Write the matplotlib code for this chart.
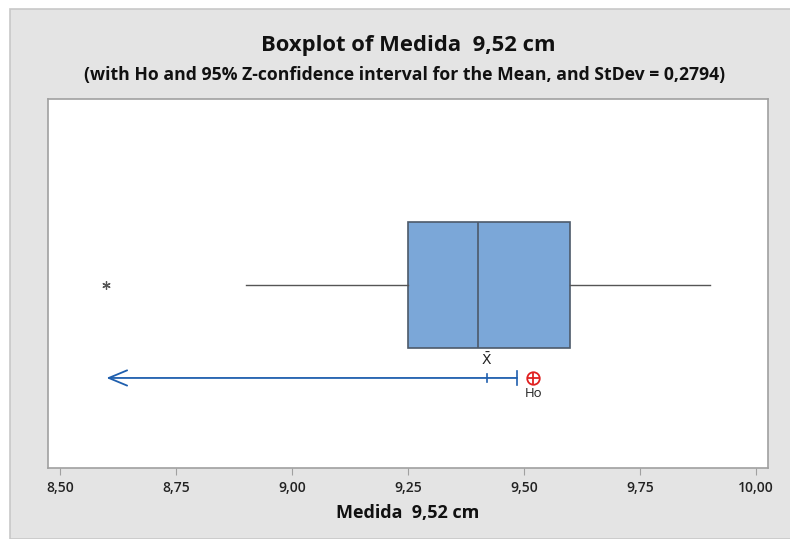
import numpy as np
import matplotlib.pyplot as plt
from matplotlib.patches import Rectangle

# Summary values
q1 = 9.25
median = 9.40
q3 = 9.60
whisker_low = 8.90
whisker_high = 9.90
outliers = [8.60]
mean = 9.42
ci_upper = 9.485
ho = 9.52
xticks = [8.50, 8.75, 9.00, 9.25, 9.50, 9.75, 10.00]
xtick_labels = ['8,50', '8,75', '9,00', '9,25', '9,50', '9,75', '10,00']

plt.rcParams['font.family'] = ['Open Sans', 'DejaVu Sans']

fig = plt.figure(figsize=(7.9, 5.39), dpi=100)
fig.patch.set_facecolor('white')
# grey Minitab style panel
fig.patches.append(Rectangle((10 / 790, 0), 1, 1 - 9 / 539, transform=fig.transFigure,
                             facecolor='#e4e4e4', edgecolor='#c8c8c8', lw=1.2, zorder=-1))

ax = fig.add_axes([48 / 790, 71 / 539, 720 / 790, 369 / 539])
ax.set_facecolor('white')

stats = [{'q1': q1, 'med': median, 'q3': q3, 'whislo': whisker_low,
          'whishi': whisker_high, 'fliers': outliers}]
ax.bxp(stats, positions=[0.496], widths=0.34, vert=False, patch_artist=True,
       showcaps=False,
       boxprops=dict(facecolor='#7ba7d8', edgecolor='#4d5a6a', lw=1.2),
       medianprops=dict(color='#4d5a6a', lw=1.2),
       whiskerprops=dict(color='#555555', lw=1.0),
       flierprops=dict(marker=(6, 2, 0), markersize=6, markeredgecolor='#555555',
                       markerfacecolor='#555555', markeredgewidth=0.9))

# one-sided confidence interval for the mean
ci_y = 0.244
blue = '#1f5fae'
ax.annotate('', xy=(outliers[0], ci_y), xytext=(ci_upper, ci_y),
            arrowprops=dict(arrowstyle='->,head_length=0.6,head_width=0.25', color=blue,
                            lw=1.3, mutation_scale=22, shrinkA=0, shrinkB=0))
ax.plot([ci_upper, ci_upper], [ci_y - 0.018, ci_y + 0.018], color=blue, lw=1.2)
ax.plot([mean, mean], [ci_y - 0.012, ci_y + 0.012], color=blue, lw=1.2)
ax.text(mean, ci_y + 0.025, r'$\bar{\mathrm{X}}$', ha='center', va='bottom',
        fontsize=10, color='#222222')

# hypothesized mean
ax.plot(ho, ci_y, marker='o', markersize=9, markerfacecolor='none',
        markeredgecolor='#e02020', markeredgewidth=1.3)
ax.plot(ho, ci_y, marker='+', markersize=9, markeredgecolor='#e02020',
        markeredgewidth=1.3)
ax.text(ho, ci_y - 0.025, 'Ho', ha='center', va='top', fontsize=9.5, color='#222222')

ax.set_xlim(8.474, 10.026)
ax.set_ylim(0, 1)
ax.set_yticks([])
ax.set_xticks(xticks)
ax.set_xticklabels(xtick_labels, fontsize=10, fontweight='semibold', color='#222222')
ax.tick_params(axis='x', direction='out', length=5, color='#a0a0a0', pad=4)
for s in ax.spines.values():
    s.set_color('#a0a0a0')
    s.set_linewidth(1.2)

fig.text(408 / 790, 1 - 45 / 539, 'Boxplot of Medida  9,52 cm', ha='center', va='center',
         fontsize=15.8, fontweight='bold', color='#111111')
fig.text(405 / 790, 1 - 75 / 539,
         '(with Ho and 95% Z-confidence interval for the Mean, and StDev = 0,2794)',
         ha='center', va='center', fontsize=12.7, fontweight='bold', color='#111111')
fig.text(408 / 790, 1 - 513 / 539, 'Medida  9,52 cm', ha='center', va='center',
         fontsize=13, fontweight='bold', color='#111111')

fig.savefig('out.png', dpi=100)
